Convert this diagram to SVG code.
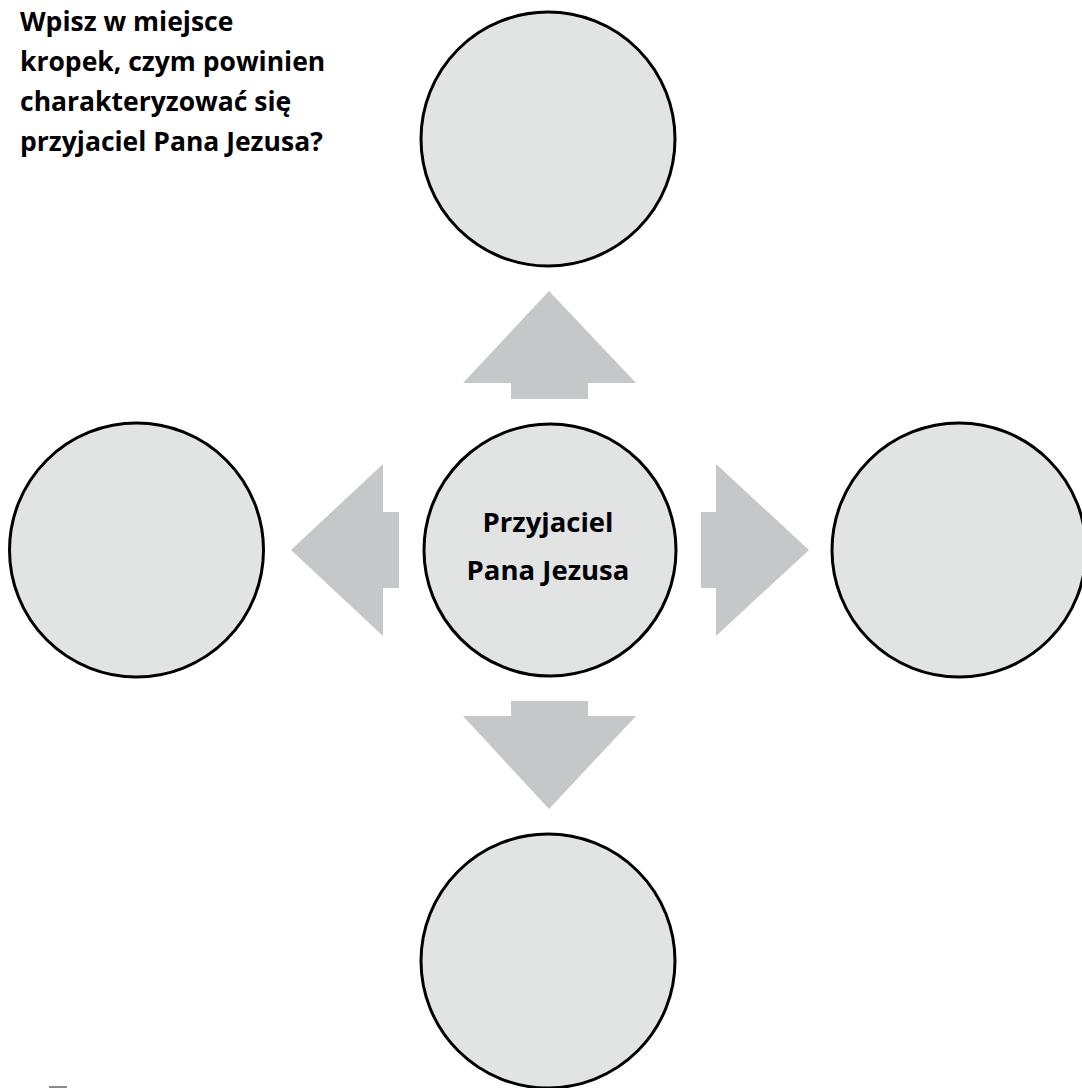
<svg xmlns="http://www.w3.org/2000/svg" width="1082" height="1088" viewBox="0 0 1082 1088">
<style>
.node{fill:#e2e3e3;stroke:#000;stroke-width:3}
.arrow{fill:#c6c7c8;stroke:none}
.t{font-family:"Open Sans","Liberation Sans",sans-serif;font-weight:bold;fill:#000}
.title{font-size:26.5px}
.label{font-size:27.5px}
</style>
<rect width="1082" height="1088" fill="#fff"/>
<g id="title">
<text class="t title" x="20" y="31">Wpisz w miejsce</text>
<text class="t title" x="20" y="71">kropek, czym powinien</text>
<text class="t title" x="20" y="111">charakteryzować się</text>
<text class="t title" x="20" y="151">przyjaciel Pana Jezusa?</text>
</g>
<g id="connectors">
<polygon class="arrow" points="549,291 636,383 588,383 588,399 511,399 511,383 463,383"/>
<polygon class="arrow" points="549,809 636,716 588,716 588,701 511,701 511,716 463,716"/>
<polygon class="arrow" points="291,550 383,464 383,512 399,512 399,588 383,588 383,636"/>
<polygon class="arrow" points="809,550 716,464 716,512 701,512 701,588 716,588 716,636"/>
</g>
<g id="node-center">
<circle class="node" cx="550" cy="550" r="126"/>
<text class="t label" x="548" y="532" text-anchor="middle">Przyjaciel</text>
<text class="t label" x="548" y="580" text-anchor="middle">Pana Jezusa</text>
</g>
<g id="node-top"><circle class="node" cx="548" cy="139" r="127"/></g>
<g id="node-left"><circle class="node" cx="136.5" cy="550" r="127"/></g>
<g id="node-right"><circle class="node" cx="959" cy="550" r="127"/></g>
<g id="node-bottom"><circle class="node" cx="548" cy="961" r="127"/></g>
<rect x="49" y="1086" width="18" height="2" fill="#8a8a8a"/>
</svg>
